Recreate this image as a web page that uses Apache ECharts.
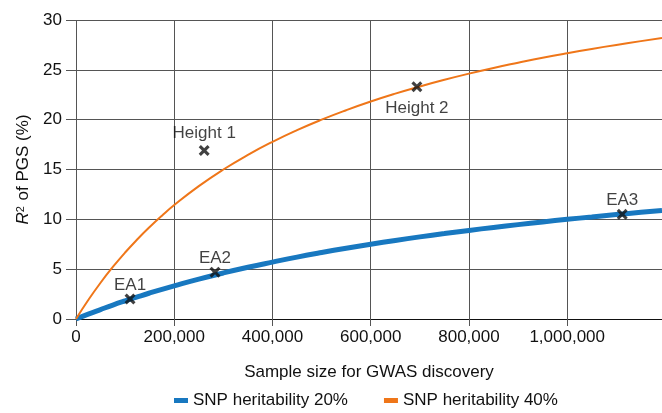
<!DOCTYPE html>
<html><head><meta charset="utf-8">
<script src="https://cdn.jsdelivr.net/npm/echarts@6/dist/echarts.min.js"></script>
<style>html,body{margin:0;padding:0;background:#fff}#c{width:662px;height:413px}</style>
</head><body><div id="c"></div>
<script>
const sampleSizes = [0,25000,50000,75000,100000,125000,150000,175000,200000,250000,300000,350000,400000,450000,500000,550000,600000,650000,700000,750000,800000,850000,900000,950000,1000000,1050000,1100000,1150000,1193000];
const h20 = [0,0.49,0.95,1.40,1.82,2.22,2.61,2.98,3.33,4.00,4.62,5.19,5.71,6.21,6.67,7.10,7.50,7.88,8.24,8.57,8.89,9.19,9.47,9.74,10.00,10.24,10.48,10.70,10.88];
const h40 = [0,1.90,3.64,5.22,6.67,8.00,9.23,10.37,11.43,13.33,15.00,16.47,17.78,18.95,20.00,20.95,21.82,22.61,23.33,24.00,24.62,25.19,25.71,26.21,26.67,27.10,27.50,27.88,28.19];
const studyNames = ['EA1','EA2','EA3','Height 1','Height 2'];
const studyN = [110000,283000,1112000,261000,694000];
const studyR2 = [2.0,4.7,10.5,16.9,23.3];
const xTicks = [0,200000,400000,600000,800000,1000000];

const font = '"Liberation Sans", Arial, Helvetica, sans-serif';
const txt = '#111';
const chart = echarts.init(document.getElementById('c'), null, {renderer:'canvas'});
const cross = 'path://M0,2 L2,0 L5,3 L8,0 L10,2 L7,5 L10,8 L8,10 L5,7 L2,10 L0,8 L3,5 Z';
const labelDist = {'EA1':0,'EA2':0,'EA3':0,'Height 1':3,'Height 2':8};
const pts = studyNames.map((n,i)=>({
  name:n, value:[studyN[i], studyR2[i]],
  label:{position: n==='Height 2' ? 'bottom' : 'top', distance: labelDist[n]}
}));
chart.setOption({
  animation:false,
  textStyle:{fontFamily:font},
  grid:{left:76, top:20, width:586, height:299, containLabel:false},
  xAxis:{
    type:'value', min:0, max:1193000, interval:200000,
    name:'Sample size for GWAS discovery', nameLocation:'middle', nameGap:45,
    nameTextStyle:{fontSize:17, color:txt, fontFamily:font},
    axisLine:{show:true, lineStyle:{color:'#111', width:1}},
    axisTick:{show:true, length:7, lineStyle:{color:'#555'}},
    axisLabel:{fontSize:17, color:txt, margin:10, fontFamily:font, showMaxLabel:false,
      formatter:v=> xTicks.indexOf(v)>=0 ? v.toLocaleString('en-US') : ''},
    splitLine:{show:true, lineStyle:{color:'#555', width:1}}
  },
  yAxis:{
    type:'value', min:0, max:30, interval:5,
    name:'{i|R}{s|2}{n| of PGS (%)}', nameLocation:'middle', nameGap:44, nameRotate:90,
    nameTextStyle:{fontSize:17, color:txt, fontFamily:font,
      rich:{i:{fontStyle:'italic', fontSize:17, color:txt, fontFamily:font},
            s:{fontSize:11, color:txt, verticalAlign:'top', padding:[0,1,0,0], fontFamily:font},
            n:{fontSize:17, color:txt, fontFamily:font}}},
    axisLine:{show:false},
    axisTick:{show:true, length:10, lineStyle:{color:'#555'}},
    axisLabel:{fontSize:17, color:txt, margin:14, fontFamily:font},
    splitLine:{show:true, lineStyle:{color:'#555', width:1}}
  },
  legend:{
    top:392, left:174, padding:0, itemWidth:14, itemHeight:5, itemGap:36, icon:'rect',
    textStyle:{fontSize:17, color:txt, fontFamily:font},
    data:['SNP heritability 20%','SNP heritability 40%']
  },
  series:[
    {name:'SNP heritability 20%', type:'line', smooth:true, showSymbol:false,
     data:sampleSizes.map((x,i)=>[x,h20[i]]),
     lineStyle:{color:'#1878c0', width:5}, itemStyle:{color:'#1878c0'}},
    {name:'SNP heritability 40%', type:'line', smooth:true, showSymbol:false,
     data:sampleSizes.map((x,i)=>[x,h40[i]]),
     lineStyle:{color:'#ef7619', width:2}, itemStyle:{color:'#ef7619'}},
    {name:'studies', type:'scatter', symbol:cross, symbolSize:11, z:5,
     itemStyle:{color:'#111'},
     label:{show:true, formatter:'{b}', fontSize:17, color:txt, fontFamily:font},
     data:pts}
  ]
});
</script></body></html>
